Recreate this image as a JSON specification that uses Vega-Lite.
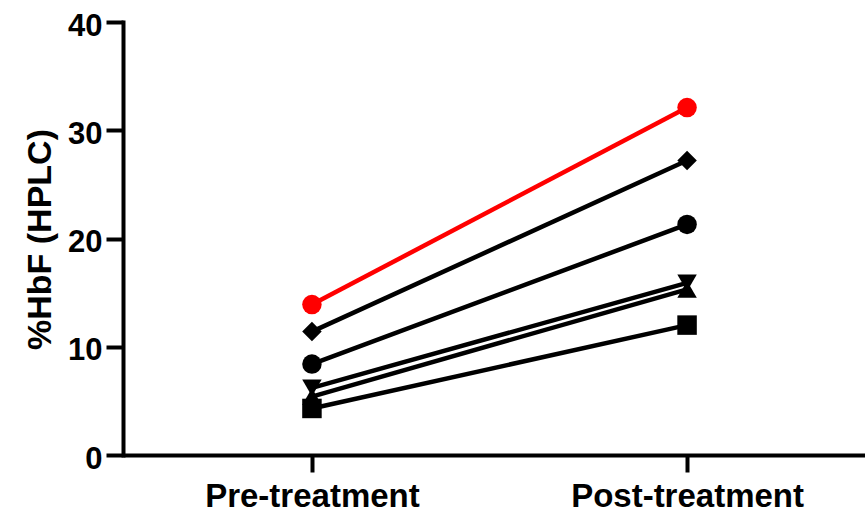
{
  "$schema": "https://vega.github.io/schema/vega-lite/v6.json",
  "width": 742,
  "height": 433,
  "autosize": {"type": "none"},
  "padding": {"left": 123, "top": 22, "right": 0, "bottom": 58},
  "background": "white",
  "config": {"view": {"stroke": null}, "font": "Liberation Sans"},
  "data": {
    "values": [
      {"subject": "S6", "time": "Pre-treatment", "hbf": 4.3},
      {"subject": "S6", "time": "Post-treatment", "hbf": 12.0},
      {"subject": "S5", "time": "Pre-treatment", "hbf": 5.4},
      {"subject": "S5", "time": "Post-treatment", "hbf": 15.3},
      {"subject": "S4", "time": "Pre-treatment", "hbf": 6.2},
      {"subject": "S4", "time": "Post-treatment", "hbf": 15.9},
      {"subject": "S3", "time": "Pre-treatment", "hbf": 8.4},
      {"subject": "S3", "time": "Post-treatment", "hbf": 21.3},
      {"subject": "S2", "time": "Pre-treatment", "hbf": 11.4},
      {"subject": "S2", "time": "Post-treatment", "hbf": 27.2},
      {"subject": "S1", "time": "Pre-treatment", "hbf": 13.9},
      {"subject": "S1", "time": "Post-treatment", "hbf": 32.1}
    ]
  },
  "encoding": {
    "x": {
      "field": "time",
      "type": "nominal",
      "sort": ["Pre-treatment", "Post-treatment"],
      "scale": {"type": "point", "domain": ["Pre-treatment", "Post-treatment"], "padding": 0.489, "align": 0.515},
      "axis": {
        "title": null,
        "labelAngle": 0,
        "labelLimit": 0,
        "labelFont": "Liberation Sans",
        "labelFontWeight": "bold",
        "labelFontSize": 33,
        "labelColor": "black",
        "labelPadding": 8,
        "tickSize": 17,
        "tickWidth": 4,
        "tickColor": "black",
        "domainWidth": 4,
        "domainColor": "black",
        "grid": false
      }
    },
    "y": {
      "field": "hbf",
      "type": "quantitative",
      "scale": {"domain": [0, 40], "nice": false},
      "axis": {
        "title": "%HbF (HPLC)",
        "values": [0, 10, 20, 30, 40],
        "labelFont": "Liberation Sans",
        "labelFontWeight": "bold",
        "labelFontSize": 31,
        "labelColor": "black",
        "labelPadding": 4,
        "labelOffset": 4,
        "tickSize": 17,
        "tickWidth": 4,
        "tickColor": "black",
        "domainWidth": 4,
        "domainColor": "black",
        "domainCap": "square",
        "grid": false,
        "titleFont": "Liberation Sans",
        "titleFontWeight": "bold",
        "titleFontSize": 34,
        "titleColor": "black",
        "titleX": -73,
        "titleY": 217,
        "titleBaseline": "alphabetic",
        "titleAlign": "center"
      }
    },
    "detail": {"field": "subject"}
  },
  "layer": [
    {
      "mark": {"type": "line", "strokeWidth": 4.5},
      "encoding": {
        "color": {
          "field": "subject",
          "type": "nominal",
          "scale": {"domain": ["S1", "S2", "S3", "S4", "S5", "S6"], "range": ["#ff0000", "#000000", "#000000", "#000000", "#000000", "#000000"]},
          "legend": null
        }
      }
    },
    {
      "mark": {"type": "point", "filled": true, "opacity": 1},
      "encoding": {
        "color": {
          "field": "subject",
          "type": "nominal",
          "scale": {"domain": ["S1", "S2", "S3", "S4", "S5", "S6"], "range": ["#ff0000", "#000000", "#000000", "#000000", "#000000", "#000000"]},
          "legend": null
        },
        "shape": {
          "field": "subject",
          "type": "nominal",
          "scale": {"domain": ["S1", "S2", "S3", "S4", "S5", "S6"], "range": ["circle", "diamond", "circle", "triangle-down", "triangle-up", "square"]},
          "legend": null
        },
        "size": {
          "field": "subject",
          "type": "nominal",
          "scale": {"domain": ["S1", "S2", "S3", "S4", "S5", "S6"], "range": [380, 380, 380, 320, 320, 330]},
          "legend": null
        }
      }
    }
  ]
}
